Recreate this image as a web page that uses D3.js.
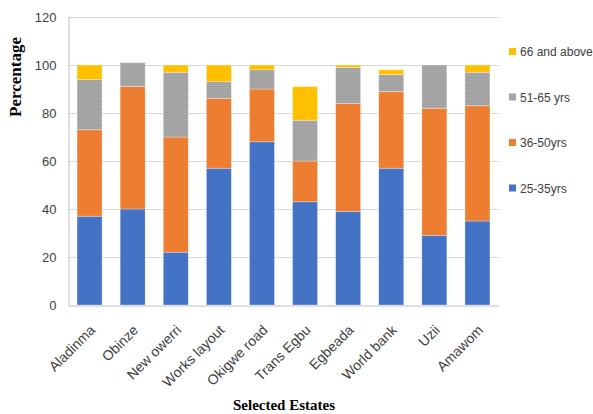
<!DOCTYPE html>
<html>
<head>
<meta charset="utf-8">
<script src="https://cdn.jsdelivr.net/npm/d3@7"></script>
<style>
  html, body { margin: 0; padding: 0; background: #fff; }
  svg { display: block; }
</style>
</head>
<body>
<svg id="chart" width="593" height="414"></svg>
<script>
// Age distribution of respondents by estate (percent)
const estates = ["Aladinma", "Obinze", "New owerri", "Works layout", "Okigwe road",
                 "Trans Egbu", "Egbeada", "World bank", "Uzii", "Amawom"];
const age25to35 = [37, 40, 22, 57, 68, 43, 39, 57, 29, 35];
const age36to50 = [36, 51, 48, 29, 22, 17, 45, 32, 53, 48];
const age51to65 = [21, 10, 27, 7, 8, 17, 15, 7, 18, 14];
const age66plus = [6, 0, 3, 7, 2, 14, 1, 2, 0, 3];
const seriesNames = ["25-35yrs", "36-50yrs", "51-65 yrs", "66 and above"];
const seriesColors = ["#4472C4", "#ED7D31", "#A5A5A5", "#FFC000"];
const yTicks = [0, 20, 40, 60, 80, 100, 120];

const svg = d3.select("#chart");
const margin = { left: 68, right: 94, top: 17, bottom: 109 };
const W = 593, H = 414;
const x0 = margin.left, x1 = W - margin.right;
const y0 = H - margin.bottom, y1 = margin.top;

const x = d3.scaleBand().domain(estates).range([x0, x1]).paddingInner(0.42).paddingOuter(0.21);
const y = d3.scaleLinear().domain([0, 120]).range([y0, y1]);

// fine horizontal striping for the 51-65 band
const defs = svg.append("defs");
const pat = defs.append("pattern").attr("id", "grayStripes")
  .attr("patternUnits", "userSpaceOnUse").attr("width", 4).attr("height", 2);
pat.append("rect").attr("width", 4).attr("height", 2).attr("fill", "#a9a9a9");
pat.append("rect").attr("width", 4).attr("height", 1).attr("fill", "#9f9f9f");

// gridlines
svg.append("g").selectAll("line").data(yTicks.filter(t => t > 0)).join("line")
  .attr("x1", x0).attr("x2", x1)
  .attr("y1", d => y(d) + 0.5).attr("y2", d => y(d) + 0.5)
  .attr("stroke", "#d9d9d9").attr("stroke-width", 1);

// y axis
const yAxis = d3.axisLeft(y).tickValues(yTicks).tickSize(0).tickPadding(12);
const gy = svg.append("g").attr("transform", `translate(${x0 + 0.5},0)`).call(yAxis);
gy.select(".domain").attr("stroke", "#bfbfbf");
gy.selectAll("text").attr("font-family", "Liberation Sans, Arial, sans-serif")
  .attr("font-size", 13).attr("fill", "#404040");

// stacked bars
const rows = estates.map((e, i) => ({
  estate: e, s0: age25to35[i], s1: age36to50[i], s2: age51to65[i], s3: age66plus[i]
}));
const stack = d3.stack().keys(["s0", "s1", "s2", "s3"])(rows);
const fills = [seriesColors[0], seriesColors[1], "url(#grayStripes)", seriesColors[3]];

svg.append("g").selectAll("g").data(stack).join("g")
  .attr("fill", (d, i) => fills[i])
  .selectAll("rect").data(d => d).join("rect")
  .attr("x", d => x(d.data.estate))
  .attr("width", x.bandwidth())
  .attr("y", d => y(d[1]))
  .attr("height", d => Math.max(0, y(d[0]) - y(d[1])))
  .attr("stroke", "#ffffff").attr("stroke-opacity", 0.5).attr("stroke-width", 0.6);

// x axis with slanted category labels
const xAxis = d3.axisBottom(x).tickSize(0).tickPadding(0);
const gx = svg.append("g").attr("transform", `translate(0,${y0 + 0.5})`).call(xAxis);
gx.select(".domain").attr("stroke", "#bfbfbf");
gx.selectAll("text")
  .attr("font-family", "Liberation Sans, Arial, sans-serif")
  .attr("font-size", 14).attr("fill", "#404040")
  .attr("text-anchor", "end")
  .attr("y", 0).attr("dy", "0.35em")
  .attr("transform", "translate(3,22) rotate(-45)");

// axis titles
svg.append("text")
  .attr("transform", "translate(15,77) rotate(-90)")
  .attr("text-anchor", "middle").attr("dy", "0.35em")
  .attr("font-family", "Liberation Serif, Times New Roman, serif")
  .attr("font-weight", "bold").attr("font-size", 17).attr("fill", "#000")
  .text("Percentage");

svg.append("text")
  .attr("x", 284).attr("y", 410)
  .attr("text-anchor", "middle")
  .attr("font-family", "Liberation Serif, Times New Roman, serif")
  .attr("font-weight", "bold").attr("font-size", 15).attr("fill", "#000")
  .text("Selected Estates");

// legend (top-down: oldest first)
const legendOrder = [3, 2, 1, 0];
const lg = svg.append("g");
legendOrder.forEach((si, k) => {
  const ly = 52 + k * 45.5;
  lg.append("rect").attr("x", 509).attr("y", ly - 4).attr("width", 7).attr("height", 7)
    .attr("fill", si === 2 ? "url(#grayStripes)" : seriesColors[si]);
  lg.append("text").attr("x", 520).attr("y", ly).attr("dy", "0.35em")
    .attr("font-family", "Liberation Sans, Arial, sans-serif")
    .attr("font-size", 12).attr("fill", "#404040")
    .text(seriesNames[si]);
});
</script>
</body>
</html>
